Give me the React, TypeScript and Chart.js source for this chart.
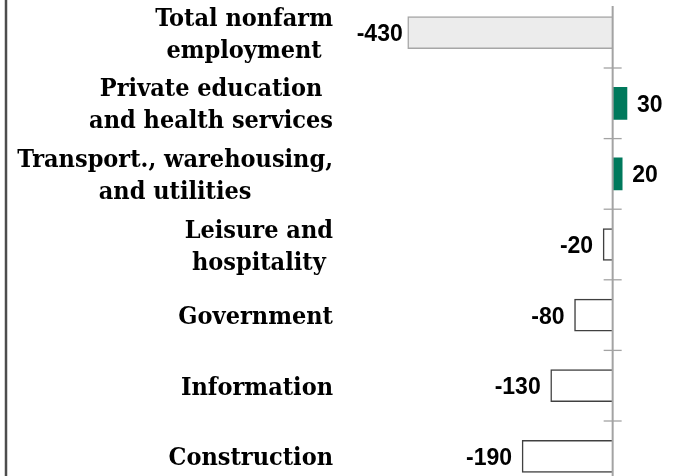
import React, { useEffect, useRef } from "react";
import { Chart, registerables } from "chart.js";

Chart.register(...registerables);

// ---- data ----
const categories: string[][] = [
  ["Total nonfarm", "employment"],
  ["Private education", "and health services"],
  ["Transport., warehousing,", "and utilities"],
  ["Leisure and", "hospitality"],
  ["Government"],
  ["Information"],
  ["Construction"],
];
const changes: number[] = [-430, 30, 20, -20, -80, -130, -190];
const valueLabels: string[] = ["-430", "30", "20", "-20", "-80", "-130", "-190"];
const axisMin = -500;
const axisMax = 135;

const GREEN = "#00795c";
const LABEL_FONT = "bold 25px 'DejaVu Serif Condensed', 'DejaVu Serif', serif";
const VALUE_FONT = "bold 23px 'Liberation Sans', Arial, sans-serif";
const OFFSET_TOP = -10; // container top in page coords

const overlay = {
  id: "overlay",
  afterDatasetsDraw(chart: any) {
    const ctx = chart.ctx as CanvasRenderingContext2D;
    const xs = chart.scales.x;
    const ys = chart.scales.y;
    const x0 = xs.getPixelForValue(0);
    const half = (ys.getPixelForValue(1) - ys.getPixelForValue(0)) / 2;
    ctx.save();

    // left frame line
    ctx.strokeStyle = "#4d4d4d";
    ctx.lineWidth = 2.5;
    ctx.beginPath();
    ctx.moveTo(6, 0);
    ctx.lineTo(6, chart.height);
    ctx.stroke();

    // zero axis
    ctx.strokeStyle = "#a3a3a3";
    ctx.lineWidth = 2;
    ctx.beginPath();
    ctx.moveTo(x0, 6 - OFFSET_TOP);
    ctx.lineTo(x0, chart.height);
    ctx.stroke();

    // tick marks at category boundaries
    ctx.lineWidth = 1.3;
    for (let i = 0; i < categories.length; i++) {
      const yb = ys.getPixelForValue(i) + half;
      ctx.beginPath();
      ctx.moveTo(x0 - 9, yb);
      ctx.lineTo(x0 + 9, yb);
      ctx.stroke();
    }

    // category labels
    ctx.fillStyle = "#000";
    ctx.font = LABEL_FONT;
    ctx.textAlign = "center";
    ctx.textBaseline = "alphabetic";
    const rightEdge = 333;
    categories.forEach((lines, i) => {
      const yc = ys.getPixelForValue(i);
      const w = Math.max(...lines.map((l) => ctx.measureText(l).width));
      const cx = rightEdge - w / 2;
      lines.forEach((line, j) => {
        const by = yc + 9 + (j - (lines.length - 1) / 2) * 32;
        ctx.fillText(line, cx, by);
      });
    });

    // value labels
    ctx.font = VALUE_FONT;
    changes.forEach((v, i) => {
      const yc = ys.getPixelForValue(i);
      const xv = xs.getPixelForValue(v);
      if (v < 0) {
        ctx.textAlign = "right";
        ctx.fillText(valueLabels[i], xv - (i === 0 ? 5 : 10), yc + 8.5);
      } else {
        ctx.textAlign = "left";
        ctx.fillText(valueLabels[i], xv + 10, yc + 8.5);
      }
    });
    ctx.restore();
  },
};

export default function App() {
  const ref = useRef<HTMLCanvasElement | null>(null);
  useEffect(() => {
    if (!ref.current) return;
    const chart = new Chart(ref.current, {
      type: "bar",
      data: {
        labels: categories.map((c) => c.join(" ")),
        datasets: [
          {
            data: changes,
            backgroundColor: changes.map((v, i) => (i === 0 ? "#ececec" : v > 0 ? GREEN : "#ffffff")),
            borderColor: changes.map((v, i) => (i === 0 ? "#a6a6a6" : v > 0 ? GREEN : "#404040")),
            borderWidth: changes.map((v) => (v > 0 ? 0 : 1.5)),
            barThickness: 32,
          },
        ],
      },
      options: {
        indexAxis: "y",
        animation: false,
        responsive: false,
        maintainAspectRatio: false,
        layout: { padding: { left: 374.35, right: 0, top: 7.4, bottom: 8.4 } },
        plugins: { legend: { display: false }, tooltip: { enabled: false }, title: { display: false } },
        scales: {
          x: { display: false, min: axisMin, max: axisMax },
          y: { display: false, offset: true },
        },
      },
      plugins: [overlay],
    });
    return () => chart.destroy();
  }, []);
  return (
    <div style={{ position: "fixed", left: 0, top: OFFSET_TOP, width: 677, height: 510, background: "#fff" }}>
      <canvas ref={ref} width={677} height={510} style={{ width: 677, height: 510, display: "block" }} />
    </div>
  );
}
